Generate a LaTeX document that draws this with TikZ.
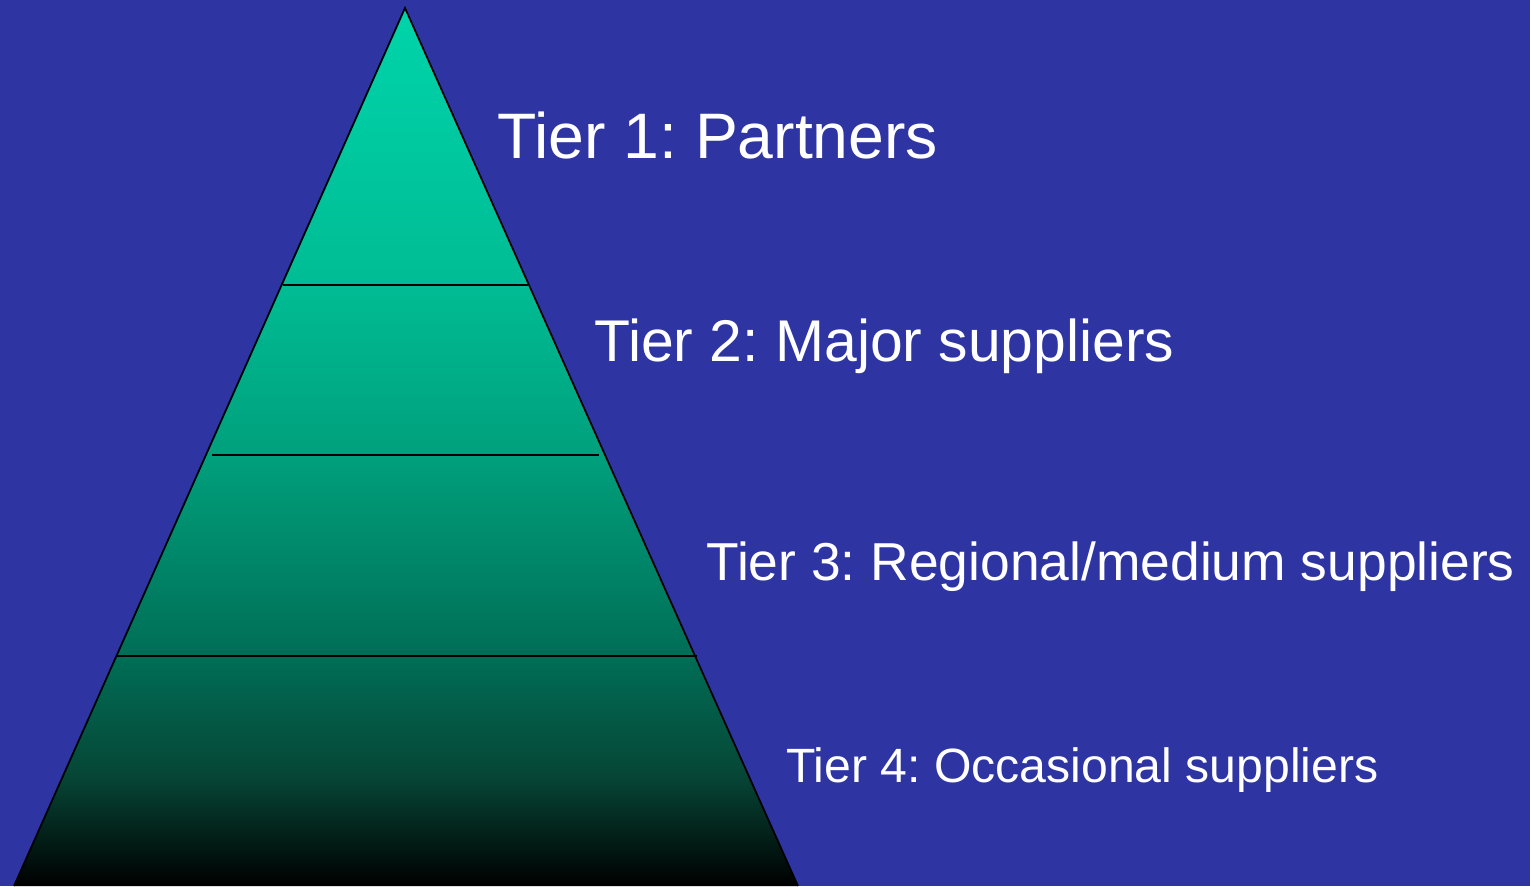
\documentclass[tikz,border=0pt]{standalone}
\usepackage{fontspec}
\setmainfont{Liberation Sans}
\definecolor{bg}{HTML}{2E35A2}
\definecolor{teal}{HTML}{00D4AA}
\definecolor{c1}{HTML}{00BC94}
\definecolor{c2}{HTML}{00A07C}
\definecolor{c3}{HTML}{006E56}
\definecolor{c4}{HTML}{064636}
\pgfdeclareverticalshading{pyr}{100bp}{color(0bp)=(black); color(25bp)=(black); color(31.3bp)=(c4); color(38.1bp)=(c3); color(49.5bp)=(c2); color(59.2bp)=(c1); color(75bp)=(teal); color(100bp)=(teal)}
\frenchspacing
\begin{document}
\begin{tikzpicture}[x=0.02cm,y=-0.02cm,
  tier/.style={anchor=base west,text=white,inner sep=0pt},
  divider/.style={draw=black,line width=0.8pt}]
\fill[bg] (0,0) rectangle (1530,886);
\useasboundingbox (0,0) rectangle (1530,886);
\coordinate (apex) at (405,8);
\coordinate (bl) at (14,886);
\coordinate (br) at (798,886);
\shade[shading=pyr] (apex) -- (br) -- (bl) -- cycle;
\draw[black,line width=1pt,line join=miter] (bl) -- (apex) -- (br);
\coordinate (l1) at (283,285); \coordinate (r1) at (528,285);
\coordinate (l2) at (212,455); \coordinate (r2) at (599,455);
\coordinate (l3) at (117,656); \coordinate (r3) at (697,656);
\draw[divider] (l1) -- (r1);
\draw[divider] (l2) -- (r2);
\draw[divider] (l3) -- (r3);
\node[tier,font=\fontsize{36.6}{40}\selectfont] (t1) at (497,158) {Tier 1: Partners};
\node[tier,font=\fontsize{33.5}{38}\selectfont] (t2) at (594,361) {Tier 2: Major suppliers};
\node[tier,font=\fontsize{30.4}{34}\selectfont] (t3) at (706,580) {Tier 3: Regional/medium suppliers};
\node[tier,font=\fontsize{27.4}{31}\selectfont] (t4) at (786,782) {Tier 4: Occasional suppliers};
\end{tikzpicture}
\end{document}
